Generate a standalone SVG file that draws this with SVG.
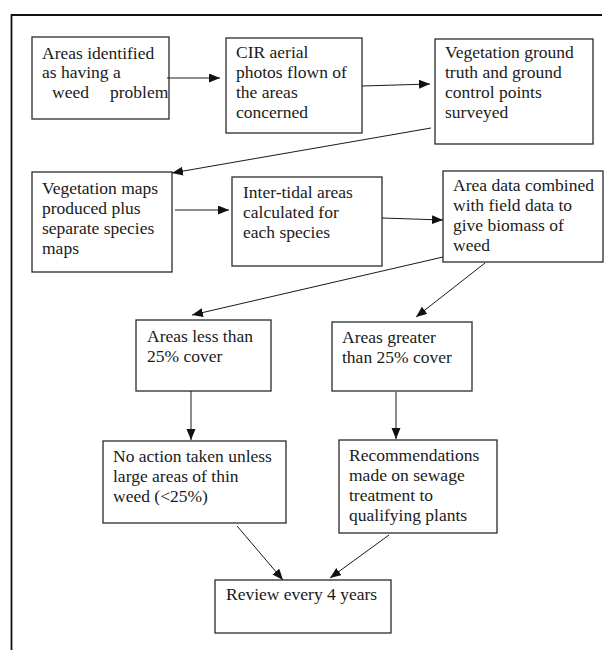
<svg xmlns="http://www.w3.org/2000/svg" width="604" height="650" viewBox="0 0 604 650">
<style>
.box{fill:#fff;stroke:#2a2a2a;stroke-width:1.3}
.t{font-family:"Liberation Serif","Times New Roman",serif;font-size:17.5px;fill:#1a1a1a}
.c{fill:none;stroke:#1a1a1a;stroke-width:1}
.frame{fill:none;stroke:#111;stroke-width:1.8}
</style>
<defs>
<marker id="ah" markerUnits="userSpaceOnUse" markerWidth="12" markerHeight="10" refX="11" refY="4.5" orient="auto">
<path d="M0,0 L11,4.5 L0,9 z" fill="#111"/>
</marker>
</defs>
<rect width="604" height="650" fill="#fff"/>
<path class="frame" d="M11.5,650 V15 H602"/>
<g id="n1"><rect class="box" x="32" y="37" width="137" height="82"/>
<text class="t" x="42" y="59">Areas identified</text><text class="t" x="42" y="78">as having a</text><text class="t" y="98"><tspan x="52">weed</tspan><tspan x="110">problem</tspan></text></g>
<g id="n2"><rect class="box" x="226" y="38" width="136" height="95"/>
<text class="t" x="236" y="58">CIR aerial</text><text class="t" x="236" y="78">photos flown of</text><text class="t" x="236" y="98">the areas</text><text class="t" x="236" y="118">concerned</text></g>
<g id="n3"><rect class="box" x="435" y="39" width="158" height="105"/>
<text class="t" x="445" y="58">Vegetation ground</text><text class="t" x="445" y="78">truth and ground</text><text class="t" x="445" y="98">control points</text><text class="t" x="445" y="118">surveyed</text></g>
<g id="n4"><rect class="box" x="32" y="172" width="140" height="100"/>
<text class="t" x="42" y="194">Vegetation maps</text><text class="t" x="42" y="214">produced plus</text><text class="t" x="42" y="234">separate species</text><text class="t" x="42" y="254">maps</text></g>
<g id="n5"><rect class="box" x="232" y="177" width="150" height="89"/>
<text class="t" x="243" y="198">Inter-tidal areas</text><text class="t" x="243" y="218">calculated for</text><text class="t" x="243" y="238">each species</text></g>
<g id="n6"><rect class="box" x="443" y="171" width="160" height="91"/>
<text class="t" x="453" y="191">Area data combined</text><text class="t" x="453" y="211">with field data to</text><text class="t" x="453" y="231">give biomass of</text><text class="t" x="453" y="251">weed</text></g>
<g id="n7"><rect class="box" x="136" y="320" width="135" height="71"/>
<text class="t" x="147" y="342">Areas less than</text><text class="t" x="147" y="362">25% cover</text></g>
<g id="n8"><rect class="box" x="332" y="322" width="140" height="69"/>
<text class="t" x="342" y="343">Areas greater</text><text class="t" x="342" y="363">than 25% cover</text></g>
<g id="n9"><rect class="box" x="103" y="441" width="183" height="82"/>
<text class="t" x="113" y="462">No action taken unless</text><text class="t" x="113" y="482">large areas of thin</text><text class="t" x="113" y="502">weed (&lt;25%)</text></g>
<g id="n10"><rect class="box" x="339" y="440" width="158" height="93"/>
<text class="t" x="349" y="461">Recommendations</text><text class="t" x="349" y="481">made on sewage</text><text class="t" x="349" y="501">treatment to</text><text class="t" x="349" y="521">qualifying plants</text></g>
<g id="n11"><rect class="box" x="215" y="580" width="176" height="53"/>
<text class="t" x="226" y="600">Review every 4 years</text></g>
<g id="connectors">
<line class="c" x1="167" y1="78" x2="220" y2="78" marker-end="url(#ah)"/>
<line class="c" x1="362" y1="86" x2="430" y2="84" marker-end="url(#ah)"/>
<line class="c" x1="431" y1="128" x2="172" y2="173" marker-end="url(#ah)"/>
<line class="c" x1="175" y1="210" x2="229" y2="210" marker-end="url(#ah)"/>
<line class="c" x1="382" y1="218" x2="443" y2="220" marker-end="url(#ah)"/>
<line class="c" x1="443" y1="257" x2="192" y2="315" marker-end="url(#ah)"/>
<line class="c" x1="485" y1="263" x2="416" y2="317" marker-end="url(#ah)"/>
<line class="c" x1="191" y1="391" x2="191" y2="440" marker-end="url(#ah)"/>
<line class="c" x1="396" y1="392" x2="396" y2="439" marker-end="url(#ah)"/>
<line class="c" x1="237" y1="526" x2="283" y2="580" marker-end="url(#ah)"/>
<line class="c" x1="389" y1="535" x2="330" y2="578" marker-end="url(#ah)"/>
</g>
</svg>
